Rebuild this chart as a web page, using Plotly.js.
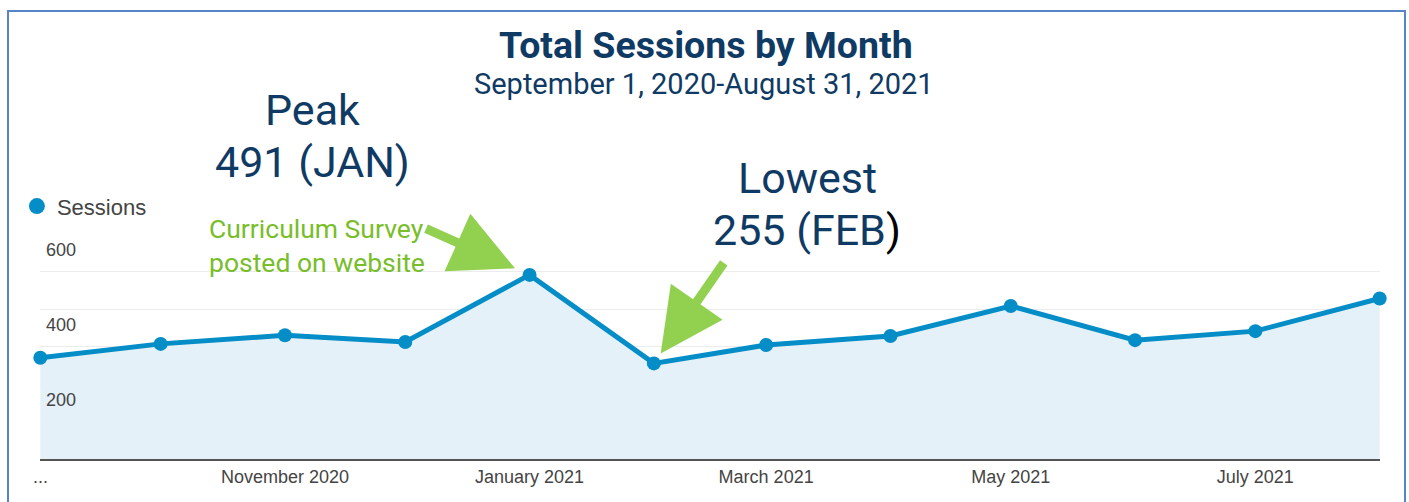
<!DOCTYPE html>
<html>
<head>
<meta charset="utf-8">
<script src="https://cdn.plot.ly/plotly-3.0.1.min.js"></script>
<style>
  html, body { margin: 0; padding: 0; background: #fff; overflow: hidden; }
  #chart { width: 1409px; height: 502px; }
  #frame { position: absolute; left: 7px; top: 10px; width: 1395px; height: 600px;
           border: 2px solid #5585c8; pointer-events: none; }
</style>
</head>
<body>
<div id="chart"></div>
<div id="frame"></div>
<script>
// monthly sessions, Sep 2020 - Aug 2021
const months = ["2020-09-01", "2020-10-01", "2020-11-01", "2020-12-01", "2021-01-01", "2021-02-01",
                "2021-03-01", "2021-04-01", "2021-05-01", "2021-06-01", "2021-07-01", "2021-08-01"];
const sessions = [270, 307, 330, 312, 491, 255, 304, 328, 408, 317, 341, 428];

// x axis labels (first one is drawn as an annotation, plotly hides it next to inside y labels)
const xTickVals = ["2020-09-01", "2020-11-01", "2021-01-01", "2021-03-01", "2021-05-01", "2021-07-01"];
const xTickText = ["...", "November 2020", "January 2021", "March 2021", "May 2021", "July 2021"];

// y axis labels
const yTickVals = [0, 200, 400, 600];
const yTickText = ["", "200", "400", "600"];

const navy = "#0f3a64";
const blue = "#058dc7";
const green = "#92d050";

const traces = [{
  x: months,
  y: sessions,
  type: "scatter",
  mode: "lines+markers",
  line: {color: blue, width: 5},
  marker: {color: blue, size: 14},
  fill: "tozeroy",
  fillcolor: "#e4f1f9",
  cliponaxis: false,
  showlegend: false,
  hoverinfo: "x+y"
}, {
  // legend entry only
  x: [null],
  y: [null],
  type: "scatter",
  mode: "markers",
  name: "Sessions",
  marker: {color: blue, size: 16}
}];

const layout = {
  width: 1409,
  height: 502,
  margin: {l: 40, r: 29, t: 234, b: 43, autoexpand: false},
  paper_bgcolor: "#fff",
  plot_bgcolor: "#fff",
  font: {family: "Liberation Sans, Arial, sans-serif", color: "#444", size: 18},
  title: {
    text: "<b>Total Sessions by Month</b>",
    font: {family: "Roboto", size: 37.5, color: navy},
    xref: "container", x: 0.501, xanchor: "center",
    yref: "container", y: 1 - 45 / 502, yanchor: "middle"
  },
  showlegend: true,
  legend: {
    xref: "container", yref: "container",
    x: 0.012, y: 0.631, xanchor: "left", yanchor: "top",
    font: {family: "Liberation Sans, Arial, sans-serif", size: 22, color: "#444"},
    bgcolor: "rgba(0,0,0,0)"
  },
  xaxis: {
    type: "date",
    range: ["2020-08-31 22:00", "2021-08-01 02:00"],
    tickvals: xTickVals,
    ticktext: xTickText,
    showgrid: false,
    showline: true,
    linecolor: "#555",
    linewidth: 2,
    ticks: "",
    zeroline: false,
    tickfont: {size: 18, color: "#444"},
    fixedrange: true
  },
  yaxis: {
    range: [0, 600],
    tickvals: yTickVals,
    ticktext: yTickText,
    ticklabelposition: "inside bottom",
    ticklabelstandoff: 3,
    ticklabelshift: 3,
    showgrid: true,
    gridcolor: "#ececec",
    gridwidth: 1,
    minor: {dtick: 100, showgrid: true, gridcolor: "#ececec", gridwidth: 1},
    zeroline: false,
    showline: false,
    ticks: "",
    tickfont: {size: 18, color: "#444"},
    fixedrange: true
  },
  annotations: [
    {
      xref: "x", yref: "paper", x: xTickVals[0], y: -0.08,
      xanchor: "center", yanchor: "middle", showarrow: false,
      text: xTickText[0],
      font: {size: 18, color: "#444"}
    },
    {
      xref: "x", yref: "y", x: "2021-01-01", y: 491,
      text: "", showarrow: true, arrowcolor: green,
      arrowhead: 2, arrowsize: 1.4, arrowwidth: 9, standoff: 16,
      ax: -105, ay: -47
    },
    {
      xref: "x", yref: "y", x: "2021-02-01", y: 255,
      text: "", showarrow: true, arrowcolor: green,
      arrowhead: 2, arrowsize: 1.4, arrowwidth: 9, standoff: 12,
      ax: 71, ay: -102
    },
    {
      xref: "paper", yref: "paper", x: 0.4955, y: 1.667,
      xanchor: "center", yanchor: "middle", showarrow: false,
      text: "September 1, 2020-August 31, 2021",
      font: {family: "Roboto", size: 29, color: navy}
    },
    {
      xref: "paper", yref: "paper", x: 0.2037, y: 1.551,
      xanchor: "center", yanchor: "middle", showarrow: false,
      text: "Peak",
      font: {family: "Roboto", size: 43, color: navy}
    },
    {
      xref: "paper", yref: "paper", x: 0.2037, y: 1.32,
      xanchor: "center", yanchor: "middle", showarrow: false,
      text: "491 (JAN)",
      font: {family: "Roboto", size: 43, color: navy}
    },
    {
      xref: "paper", yref: "paper", x: 0.573, y: 1.249,
      xanchor: "center", yanchor: "middle", showarrow: false,
      text: "Lowest",
      font: {family: "Roboto", size: 43, color: navy}
    },
    {
      xref: "paper", yref: "paper", x: 0.5724, y: 1.018,
      xanchor: "center", yanchor: "middle", showarrow: false,
      text: "255 (FEB<span style=\"color:#000\">)</span>",
      font: {family: "Roboto", size: 43, color: navy}
    },
    {
      xref: "paper", yref: "paper", x: 0.1246, y: 0.947,
      xanchor: "left", yanchor: "middle", showarrow: false, align: "left",
      text: "Curriculum Survey<br>posted on website",
      font: {family: "Roboto", size: 26.5, color: "#78bd2a"}
    }
  ]
};

Plotly.newPlot("chart", traces, layout, {displayModeBar: false, staticPlot: true});
</script>
</body>
</html>
